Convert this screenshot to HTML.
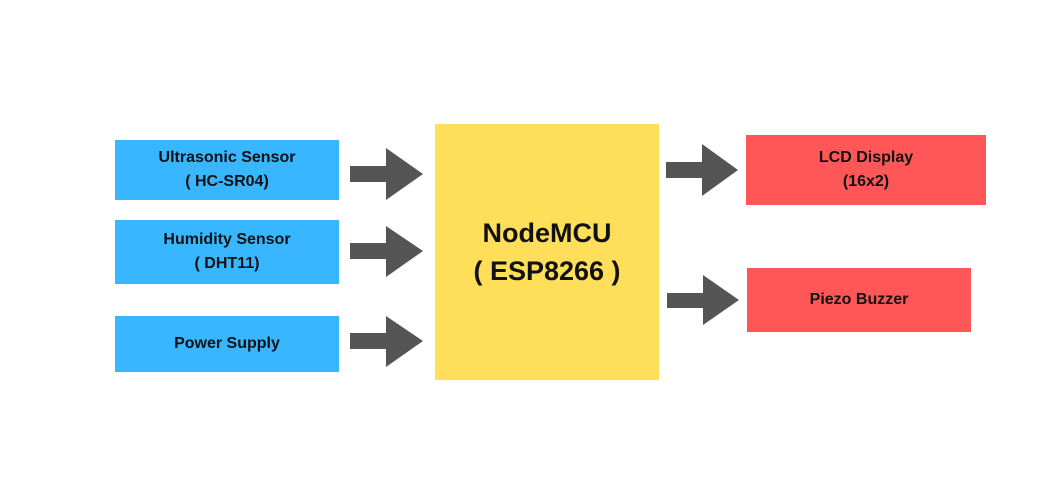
<!DOCTYPE html>
<html><head><style>
body{margin:0;width:1051px;height:479px;background:#fff;position:relative;overflow:hidden;font-family:"Liberation Sans",sans-serif;font-weight:bold}
.b{position:absolute;display:flex;align-items:center;justify-content:center;text-align:center;color:#111;font-size:16px;line-height:24px}
.bl{background:#38b6ff}.rd{background:#ff5757}
svg{position:absolute;left:0;top:0}
</style></head><body>
<div class="b bl" style="left:115px;top:140px;width:224px;height:60px">Ultrasonic Sensor<br>( HC-SR04)</div>
<div class="b bl" style="left:115px;top:220px;width:224px;height:64px">Humidity Sensor<br>( DHT11)</div>
<div class="b bl" style="left:115px;top:316px;width:224px;height:56px">Power Supply</div>
<div class="b" style="left:435px;top:124px;width:224px;height:256px;background:#ffde59;font-size:27px;line-height:38px">NodeMCU<br>( ESP8266 )</div>
<div class="b rd" style="left:746px;top:135px;width:240px;height:70px">LCD Display<br>(16x2)</div>
<div class="b rd" style="left:747px;top:268px;width:224px;height:64px">Piezo Buzzer</div>
<svg width="1051" height="479" fill="#555">
<polygon points="350,166 386,166 386,148 423,174 386,200 386,182 350,182"/>
<polygon points="350,243 386,243 386,226 423,251 386,277 386,259 350,259"/>
<polygon points="350,333 386,333 386,316 423,341 386,367 386,349 350,349"/>
<polygon points="666,162 702,162 702,144 738,170 702,196 702,178 666,178"/>
<polygon points="667,293 703,293 703,275 739,300 703,325 703,308 667,308"/>
</svg>
</body></html>
